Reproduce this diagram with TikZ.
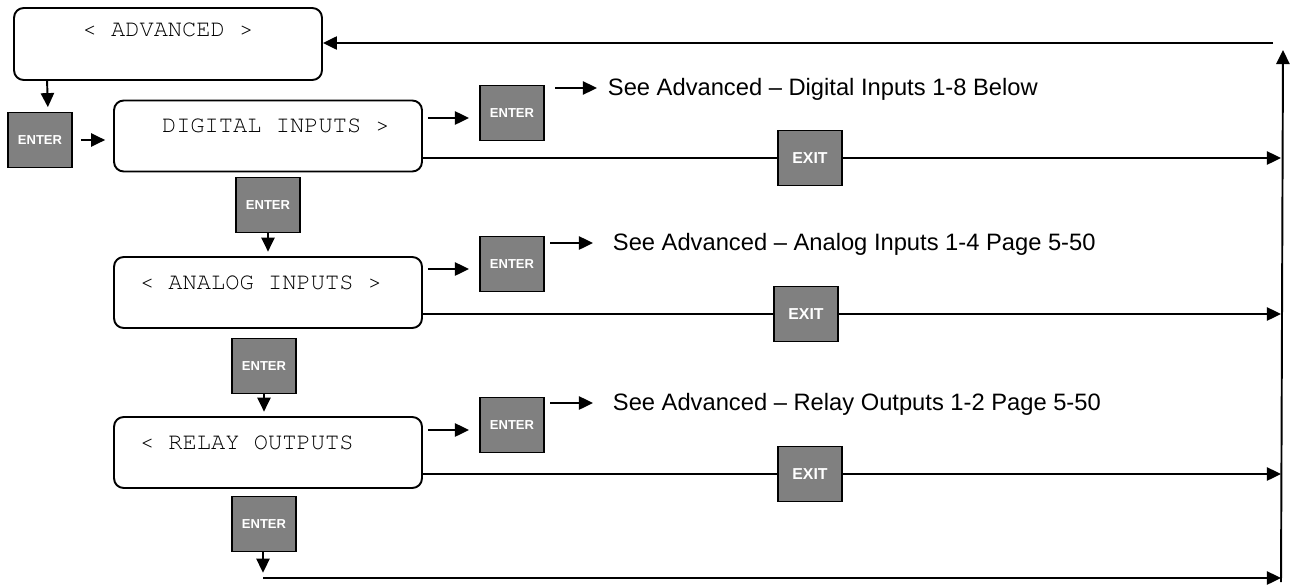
\documentclass[tikz,border=0pt]{standalone}
\usepackage{fontspec}
\setmainfont{Liberation Sans}
\setmonofont{texgyrecursor}[Extension=.otf,UprightFont=*-regular]
\usetikzlibrary{arrows.meta,calc}
\newcommand\menufont{\fontsize{13.5}{16}\selectfont\ttfamily}
\newcommand\gap{\hspace*{0.6em}}

\begin{document}
\begin{tikzpicture}[x=0.02cm,y=-0.02cm,line width=1.1pt,
	menu/.style={draw,rounded corners=5.5pt,inner xsep=0.52cm,inner ysep=0pt,text width=5.12cm,align=left,
		text height=0.64cm,text depth=0.78cm,font=\menufont},
	key/.style={draw,fill=gray,text=white,minimum width=1.28cm,minimum height=1.1cm,inner sep=0pt,
		font=\fontsize{7.4}{9}\selectfont\bfseries},
	see/.style={anchor=base west,inner sep=0pt,font=\fontsize{13.5}{15}\selectfont},
	arr/.style={-{Triangle[length=8pt,width=7.5pt]}}]
	\useasboundingbox (0,0) rectangle (1301,585);
	\node[menu,align=center,text height=0.56cm,text depth=0.88cm] (adv) at (168,44) {<\gap ADVANCED\gap >};
	\node[menu] (dig) at (268,136) {\hspace*{0.44cm}DIGITAL\gap INPUTS\gap >};
	\node[menu] (ana) at (268,292.5) {<\gap ANALOG\gap INPUTS\gap >};
	\node[menu] (rel) at (268,452.5) {<\gap RELAY\gap OUTPUTS};
	\node[key] (e0) at (40,140) {ENTER};
	\node[key] (e1) at (268,205) {ENTER};
	\node[key] (e2) at (264,366) {ENTER};
	\node[key] (e3) at (264,524) {ENTER};
	\node[key] (ed) at (512,113) {ENTER};
	\node[key] (ea) at (512,264) {ENTER};
	\node[key] (er) at (512,425) {ENTER};
	\node[key,font=\fontsize{9}{10}\selectfont\bfseries] (xd) at (810,158) {EXIT};
	\node[key,font=\fontsize{9}{10}\selectfont\bfseries] (xa) at (806,314) {EXIT};
	\node[key,font=\fontsize{9}{10}\selectfont\bfseries] (xr) at (810,474) {EXIT};
	\node[see] (sd) at (607,95) {See Advanced – Digital Inputs 1-8 Below};
	\node[see] (sa) at (612,250) {See Advanced – Analog Inputs 1-4 Page 5-50};
	\node[see] (sr) at (612,410) {See Advanced – Relay Outputs 1-2 Page 5-50};
	\coordinate (cd) at (555,88);
	\coordinate (ca) at (550,243);
	\coordinate (cr) at (550,403);
	\coordinate (rb) at (1281,582);
	\coordinate (rt) at (1283,50);
	\coordinate (tr) at (1273,43);
	\coordinate (bl) at (263,578);

	\draw[arr,shorten >=2.5pt] (adv.south west) ++(34,0) -- ($(e0.north)+(8,0)$);
	\draw[arr,shorten <=4.5pt,shorten >=4.5pt] (e0.east) -- (e0.east -| dig.west);
	\draw[arr,shorten >=2.5pt] (e1.south) -- (e1.south |- ana.north);
	\draw[arr,shorten >=2.5pt] (e2.south) -- (e2.south |- rel.north);
	\draw[arr,shorten >=3pt] (e3.south -| bl) -- (bl);
	\draw[arr,shorten <=2.8pt,shorten >=5.7pt] ($(dig.east |- ed)+(0,5)$) -- ($(ed.west)+(0,5)$);
	\draw[arr,shorten <=2.8pt,shorten >=5.7pt] ($(ana.east |- ea)+(0,5)$) -- ($(ea.west)+(0,5)$);
	\draw[arr,shorten <=2.8pt,shorten >=5.7pt] ($(rel.east |- er)+(0,5)$) -- ($(er.west)+(0,5)$);
	\draw[arr,shorten >=5.7pt] (cd) -- (cd -| sd.west);
	\draw[arr,shorten >=10.8pt] (ca) -- (ca -| sa.west);
	\draw[arr,shorten >=10.8pt] (cr) -- (cr -| sr.west);
	\draw (dig.east |- xd) -- (xd.west);
	\draw (ana.east |- xa) -- (xa.west);
	\draw (rel.east |- xr) -- (xr.west);
	\draw[arr] (xd.east) -- (xd.east -| rb);
	\draw[arr] (xa.east) -- (xa.east -| rb);
	\draw[arr] (xr.east) -- (xr.east -| rb);
	\draw[arr] (bl) -- (bl -| rb);
	\draw[arr] (rb) -- (rt);
	\draw[arr] (tr) -- (tr -| adv.east);
\end{tikzpicture}
\end{document}
